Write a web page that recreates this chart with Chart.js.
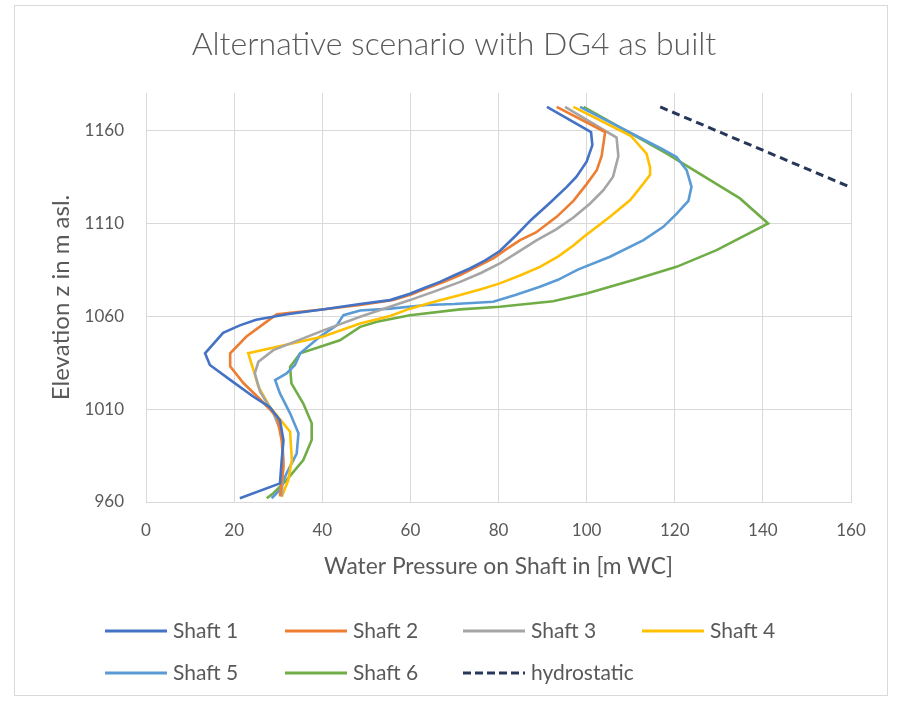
<!DOCTYPE html>
<html>
<head>
<meta charset="utf-8">
<script src="https://cdn.jsdelivr.net/npm/chart.js@4.4.1/dist/chart.umd.min.js"></script>
<style>
  html, body { margin: 0; padding: 0; background: #ffffff; }
  #wrap { position: relative; width: 901px; height: 706px; }
</style>
</head>
<body>
<div id="wrap"><canvas id="chart" width="901" height="706"></canvas></div>
<script>
// Axis ticks
const xTicks = [0, 20, 40, 60, 80, 100, 120, 140, 160];
const yTicks = [960, 1010, 1060, 1110, 1160];

// Water pressure [m WC] (P) against elevation [m asl.] (Z), per shaft
const shaft1P = [91, 101, 101.3, 100, 97.7, 95.5, 91.7, 87.5, 84, 80.3, 77, 73.5, 70, 66.7, 63, 59.9, 55.4, 48.6, 40, 32, 25, 21.3, 17.5, 13.4, 14.5, 19.5, 24.4, 28.1, 30.4, 31.2, 30.8, 30.4, 21.3];
const shaft1Z = [1172.5, 1159, 1152, 1143, 1135, 1129.5, 1121, 1112, 1103.5, 1095, 1090, 1085.6, 1082, 1078.4, 1075, 1072, 1068.6, 1066.5, 1063.5, 1061, 1058, 1055, 1051, 1040, 1033.7, 1025, 1016.6, 1011, 1004, 993, 982.6, 970, 962];

const shaft2P = [93.2, 104.2, 103.4, 102.3, 100, 97, 93.2, 88.5, 84.9, 81.8, 78.8, 75, 71.3, 67.5, 63.7, 60, 56.1, 48.6, 40, 29.7, 27.4, 22.8, 19.1, 19.1, 22.1, 26, 29.7, 30.8, 31.2, 30.4];
const shaft2Z = [1172.5, 1159, 1146, 1138.5, 1131, 1122, 1113.4, 1105, 1100.9, 1096, 1091, 1086.5, 1082, 1078.3, 1074.9, 1071.5, 1068.6, 1066, 1063.5, 1061, 1057, 1049, 1040, 1033, 1024, 1015, 1006, 993, 979, 963];

const shaft3P = [95.1, 106.8, 107.2, 106, 103.8, 100.8, 97, 93, 88.7, 84.5, 80.3, 76, 71.3, 65.5, 59.9, 54, 48.6, 41, 28.9, 25.5, 24.7, 25.9, 28.9, 30.8, 31.2, 30.8];
const shaft3Z = [1172.5, 1156, 1146, 1135, 1127.7, 1120.6, 1113, 1106.5, 1100.9, 1094.5, 1088.3, 1083.2, 1078.4, 1073.3, 1068.6, 1064, 1059.6, 1053, 1041.7, 1035.4, 1029.2, 1019.3, 1007.7, 997, 982.6, 963];

const shaft4P = [97, 110, 113.6, 114.4, 114.4, 112.9, 109.9, 105.3, 99.3, 97, 93.5, 89.4, 85, 80.3, 76, 71.3, 65, 59.9, 55.4, 48.6, 40.2, 23.2, 24.4, 25.5, 28.1, 32.7, 33.1, 32.3, 30.8];
const shaft4Z = [1172.5, 1157, 1147.4, 1140, 1136, 1131.3, 1122.4, 1113.4, 1102.6, 1098, 1092, 1086.5, 1082, 1077.6, 1074.5, 1071.3, 1067.5, 1064, 1060, 1056, 1049, 1040, 1031, 1022, 1011.2, 997.8, 982.6, 971.8, 962.8];

const shaft5P = [98.5, 117, 120.4, 122.7, 123.8, 123.1, 120.4, 117.4, 112.9, 105.3, 98, 93.5, 89.4, 84, 78.8, 70, 63.7, 55.4, 48.6, 44.8, 43.3, 39.5, 35, 33.8, 31.9, 29.3, 30.4, 32.7, 34.6, 34.2, 31.9, 30.4, 28.5];
const shaft5Z = [1172.5, 1150, 1145.6, 1138.5, 1129.5, 1122, 1115, 1108, 1100.9, 1091.9, 1085, 1079.5, 1075.8, 1071.5, 1067.7, 1066.5, 1066, 1064, 1063, 1060.5, 1055, 1049, 1040, 1033.7, 1029.2, 1025.6, 1018.4, 1007.7, 997, 986, 975.4, 966.5, 962];

const shaft6P = [99.3, 118.2, 134.8, 141.2, 129.5, 120.4, 110.6, 100, 92.4, 84.1, 80.3, 71.3, 59.9, 52.4, 48.6, 44, 35, 32.7, 33, 35.7, 37.6, 37.6, 35.7, 31.9, 28.9, 27.4];
const shaft6Z = [1172.5, 1147.4, 1123.3, 1109.8, 1095.5, 1086.5, 1079.4, 1072.2, 1068, 1066, 1065, 1063.6, 1060.5, 1057, 1054.2, 1047, 1040, 1032.7, 1023.8, 1013, 1002.3, 993.3, 982.6, 971.8, 964.7, 962];

const hydroP = [116.7, 160];
const hydroZ = [1172.5, 1129.2];

const seriesNames = ['Shaft 1', 'Shaft 2', 'Shaft 3', 'Shaft 4', 'Shaft 5', 'Shaft 6', 'hydrostatic'];
const seriesColors = ['#4472C4', '#ED7D31', '#A5A5A5', '#FFC000', '#5B9BD5', '#70AD47', '#263759'];
const chartTitle = 'Alternative scenario with DG4 as built';

const TEXT = '#595959';
const GRID = '#D9D9D9';
const FONT = 'Lato, "Open Sans", sans-serif';

function pairs(p, z) { return p.map((v, i) => ({ x: v, y: z[i] })); }

const seriesData = [
  pairs(shaft1P, shaft1Z), pairs(shaft2P, shaft2Z), pairs(shaft3P, shaft3Z),
  pairs(shaft4P, shaft4Z), pairs(shaft5P, shaft5Z), pairs(shaft6P, shaft6Z),
  pairs(hydroP, hydroZ)
];

const datasets = seriesData.map((d, i) => ({
  label: seriesNames[i],
  data: d,
  showLine: true,
  borderColor: seriesColors[i],
  backgroundColor: seriesColors[i],
  borderWidth: i === 6 ? 3 : 2.6,
  borderDash: i === 6 ? [8, 5] : [],
  pointRadius: 0,
  pointHoverRadius: 0,
  tension: 0,
  fill: false
}));

// white card with thin frame, and the heading centred on the card
const framePlugin = {
  id: 'frame',
  beforeDraw(chart) {
    const c = chart.ctx;
    c.save();
    c.fillStyle = '#ffffff';
    c.fillRect(0, 0, chart.width, chart.height);
    c.strokeStyle = '#D9D9D9';
    c.lineWidth = 1;
    c.strokeRect(14.5, 5.5, 873, 690);
    c.font = '300 32px ' + FONT;
    c.fillStyle = TEXT;
    c.textAlign = 'center';
    c.textBaseline = 'middle';
    c.fillText(chartTitle, 454, 45);
    c.restore();
  }
};

// legend laid out in a fixed 4-column grid below the plot
const gridLegend = {
  id: 'gridLegend',
  afterDraw(chart) {
    const c = chart.ctx;
    const cols = [105, 285, 463, 642];
    const rows = [631, 673];
    c.save();
    c.font = '21px ' + FONT;
    c.textBaseline = 'middle';
    c.textAlign = 'left';
    chart.data.datasets.forEach((ds, i) => {
      const x = cols[i % 4];
      const y = rows[Math.floor(i / 4)];
      c.strokeStyle = ds.borderColor;
      c.lineWidth = 3;
      c.setLineDash(ds.borderDash.length ? [8, 4] : []);
      c.beginPath();
      c.moveTo(x, y);
      c.lineTo(x + 62, y);
      c.stroke();
      c.setLineDash([]);
      c.fillStyle = TEXT;
      c.fillText(ds.label, x + 68, y);
    });
    c.restore();
  }
};

new Chart(document.getElementById('chart'), {
  type: 'scatter',
  data: { datasets },
  options: {
    responsive: false,
    animation: false,
    devicePixelRatio: 1,
    layout: { padding: { left: 0, right: 50, top: 93, bottom: 124 } },
    plugins: {
      legend: { display: false },
      tooltip: { enabled: false },
      title: { display: false }
    },
    scales: {
      x: {
        type: 'linear',
        min: 0,
        max: 160,
        afterBuildTicks(scale) { scale.ticks = xTicks.map(v => ({ value: v })); },
        afterFit(scale) { scale.height = 80; },
        grid: { color: GRID, lineWidth: 1, drawTicks: false },
        border: { color: GRID, width: 1 },
        ticks: { color: TEXT, font: { family: FONT, size: 17 }, padding: 18 },
        title: {
          display: true,
          text: 'Water Pressure on Shaft in [m WC]',
          color: TEXT,
          font: { family: FONT, size: 22.8 },
          padding: { top: 0, bottom: 2 }
        }
      },
      y: {
        type: 'linear',
        min: 960,
        max: 1180,
        afterBuildTicks(scale) { scale.ticks = yTicks.map(v => ({ value: v })); },
        afterFit(scale) { scale.width = 146; },
        grid: { color: GRID, lineWidth: 1, drawTicks: false },
        border: { color: GRID, width: 1 },
        ticks: {
          color: TEXT,
          font: { family: FONT, size: 17 },
          padding: 22,
          callback: v => String(v)
        },
        title: {
          display: true,
          text: 'Elevation z in m asl.',
          color: TEXT,
          font: { family: FONT, size: 24 },
          padding: { top: 47, bottom: 0 }
        }
      }
    }
  },
  plugins: [framePlugin, gridLegend]
});
</script>
</body>
</html>
